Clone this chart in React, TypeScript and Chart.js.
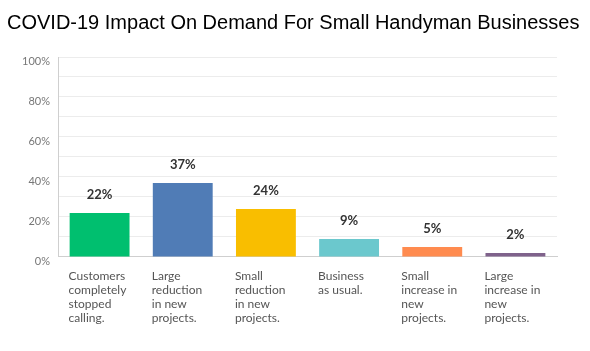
import React, { useEffect, useRef } from "react";
import { Chart, registerables } from "chart.js";

Chart.register(...registerables);

const titleText = "COVID-19 Impact On Demand For Small Handyman Businesses";
const categories: string[][] = [
  ["Customers", "completely", "stopped", "calling."],
  ["Large", "reduction", "in new", "projects."],
  ["Small", "reduction", "in new", "projects."],
  ["Business", "as usual."],
  ["Small", "increase in", "new", "projects."],
  ["Large", "increase in", "new", "projects."],
];
const values: number[] = [22, 37, 24, 9, 5, 2];
const colors: string[] = ["#00bf6f", "#507cb6", "#f9be00", "#6bc8cd", "#ff8b4f", "#7f628b"];
const yTickLabels: Record<number, string> = { 0: "0%", 20: "20%", 40: "40%", 60: "60%", 80: "80%", 100: "100%" };

const valueLabels = {
  id: "valueLabels",
  afterDatasetsDraw(chart: any) {
    const ctx = chart.ctx;
    const meta = chart.getDatasetMeta(0);
    ctx.save();
    ctx.font = "bold 13px Lato, 'Noto Sans', sans-serif";
    ctx.fillStyle = "#333";
    ctx.textAlign = "center";
    ctx.textBaseline = "middle";
    meta.data.forEach((bar: any, i: number) => {
      ctx.fillText(values[i] + "%", bar.x, bar.y - 18);
    });
    ctx.textAlign = "left";
    ctx.fillStyle = "#000";
    ctx.font = "20px 'Liberation Sans', Arial, sans-serif";
    ctx.fillText(titleText, 7, 23);
    ctx.restore();
  },
};

export default function App() {
  const ref = useRef<HTMLCanvasElement>(null);
  useEffect(() => {
    document.body.style.margin = "0";
    const chart = new Chart(ref.current!, {
      type: "bar",
      data: {
        labels: categories,
        datasets: [
          {
            data: values,
            backgroundColor: colors,
            barPercentage: 0.72,
            categoryPercentage: 1,
          },
        ],
      },
      options: {
        animation: false,
        responsive: false,
        layout: { padding: { left: 8, right: 33, top: 57, bottom: 14 } },
        plugins: {
          legend: { display: false },
          tooltip: { enabled: false },
          title: { display: false },
        },
        scales: {
          x: {
            grid: { display: false, drawTicks: false },
            border: { color: "#cfcfcf" },
            ticks: {
              align: "start",
              labelOffset: -31,
              padding: 12,
              maxRotation: 0,
              autoSkip: false,
              color: "#555",
              font: { family: "Lato, 'Noto Sans', sans-serif", size: 12, lineHeight: 1.167 },
            },
          },
          y: {
            min: 0,
            max: 100,
            afterFit: (s: any) => {
              s.width = 50;
            },
            grid: { color: "#ececec", drawTicks: false },
            border: { color: "#cfcfcf" },
            ticks: {
              stepSize: 10,
              padding: 8,
              labelOffset: 4,
              color: "#777",
              font: { family: "Lato, 'Noto Sans', sans-serif", size: 11 },
              callback: (v: any) => yTickLabels[v as number] ?? "",
            },
          },
        },
      },
      plugins: [valueLabels],
    });
    return () => chart.destroy();
  }, []);
  return <canvas ref={ref} width={590} height={351} style={{ display: "block" }} />;
}
